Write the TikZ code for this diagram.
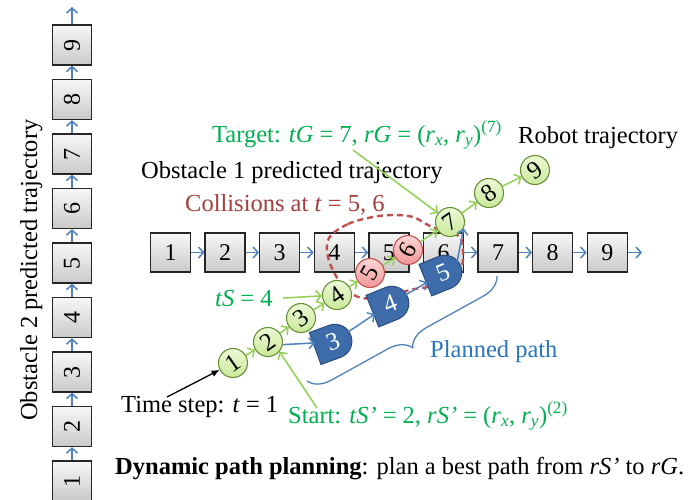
\documentclass[tikz,border=0pt]{standalone}
\usepackage{fontspec}
\setmainfont{Liberation Serif}
\usetikzlibrary{arrows.meta,decorations.pathreplacing,calc}
\definecolor{tgreen}{RGB}{0,176,80}
\definecolor{lgreen}{RGB}{146,208,80}
\definecolor{cborder}{RGB}{105,145,55}
\definecolor{cfillA}{RGB}{238,249,218}
\definecolor{cfillB}{RGB}{200,232,150}
\definecolor{rborder}{RGB}{192,80,77}
\definecolor{rfillA}{RGB}{253,220,220}
\definecolor{rfillB}{RGB}{240,150,150}
\definecolor{dblue}{RGB}{62,108,170}
\definecolor{dblueB}{RGB}{40,78,128}
\definecolor{lblue}{RGB}{79,129,189}
\definecolor{ptext}{RGB}{40,118,192}
\definecolor{colred}{RGB}{165,62,60}
\definecolor{dashred}{RGB}{192,80,77}
\newcommand{\szMain}{\fontsize{24.5}{29}\selectfont}
\newcommand{\szBox}{\fontsize{24}{28}\selectfont}
\newcommand{\szCirc}{\fontsize{25}{28}\selectfont}
\newcommand{\Dshape}[2]{\begin{scope}[shift={(#1)},rotate=#2]
  \path[dstyle] (-19,-17) -- (2,-17) arc[start angle=-90,end angle=90,radius=17] -- (-19,17) -- cycle;
  \end{scope}}
\begin{document}
\begin{tikzpicture}[x=1pt,y=-1pt,
  obox/.style={draw=black!85, line width=1.3pt, minimum width=40pt, minimum height=39pt,
    inner sep=0pt, top color=gray!6, bottom color=gray!42, font=\szBox},
  barrow/.style={draw=lblue, line width=1.5pt, -{Straight Barb[length=5pt,width=11pt]}},
  garrow/.style={draw=lgreen, line width=1.5pt, -{Straight Barb[length=5pt,width=11pt]}},
  karrow/.style={draw=black, line width=1.3pt, -{Latex[length=8pt,width=7pt]}},
  rc/.style={circle, draw=cborder, line width=1.1pt, top color=cfillA, bottom color=cfillB,
    minimum size=29pt, inner sep=0pt, font=\szCirc, rotate=35},
  rr/.style={rc, draw=rborder, top color=rfillA, bottom color=rfillB, rotate=25},
  dstyle/.style={fill=dblue, draw=dblueB, line width=1pt},
  dlab/.style={circle, minimum size=36pt, inner sep=0pt, text=white, font=\szCirc},
  txt/.style={anchor=base west, inner sep=0pt, font=\szMain},
  reddash/.style={draw=dashred, line width=2.4pt, dash pattern=on 6pt off 4pt},
  bracestyle/.style={draw=lblue, line width=1.3pt, decorate,
    decoration={brace, amplitude=22pt, mirror}}
]
\useasboundingbox (0,0) rectangle (688,499);
\clip (0,0) rectangle (688,499);
\fill[white] (0,0) rectangle (688,499);

% Obstacle 2 (vertical)
\foreach \k in {1,...,9}{
  \node[obox, rotate=90] (v\k) at (72,{481-(\k-1)*54.5}) {\k};
}
\foreach \k [evaluate=\k as \n using int(\k+1)] in {1,...,8}{
  \draw[barrow] (v\k) -- (v\n);
}
\coordinate (vtop) at (72,7);
\draw[barrow] (v9) -- (vtop);
\node[txt, rotate=90] (o2) at (37,421) {Obstacle 2 predicted trajectory};

% Obstacle 1 (horizontal)
\foreach \k in {1,...,9}{
  \node[obox] (b\k) at ({170.5+(\k-1)*54.6},252.5) {\k};
}
\foreach \k [evaluate=\k as \n using int(\k+1)] in {1,...,8}{
  \draw[barrow] (b\k) -- (b\n);
}
\coordinate (bend) at (642,252.5);
\draw[barrow] (b9) -- (bend);

% collision zone
\draw[reddash] plot[smooth cycle, tension=0.6] coordinates {
 (329,238) (348,224) (373,217) (393,215) (413,217) (430,226) (447,232) (460,237)
 (463,252) (461,268) (448,283) (428,287) (410,290) (386,297) (362,298) (347,290)
 (336,276) (328,257)};

% planned path shapes
\Dshape{333,342}{20}
\Dshape{390,304}{22}
\Dshape{443,273}{22}
\node[dlab, rotate=20] (p3) at (333,342) {3};
\node[dlab, rotate=22] (p4) at (390,304) {4};
\node[dlab, rotate=22] (p5) at (443,273) {5};

% robot trajectory
\node[rc] (c1) at (233,363) {1};
\node[rc] (c2) at (268,342) {2};
\node[rc] (c3) at (301,318) {3};
\node[rc] (c4) at (337,295) {4};
\node[rr] (c5) at (370,273) {5};
\node[rr] (c6) at (408,250) {6};
\node[rc] (c7) at (450,222) {7};
\node[rc] (c8) at (489,193) {8};
\node[rc] (c9) at (535,170) {9};
\foreach \a/\b in {c1/c2,c2/c3,c3/c4,c4/c5,c5/c6,c6/c7,c7/c8,c8/c9}{
  \draw[garrow] (\a) -- (\b);
}

% planned path arrows
\draw[barrow] (c2.south east) -- (p3);
\draw[barrow] (p3) -- (p4);
\draw[barrow] (p4) -- (p5);
\coordinate (p5top) at (457,262);
\draw[barrow] (p5top) -- (c7.-60);

% brace
\coordinate (brA) at (307,381);
\coordinate (brB) at (497,276);
\draw[bracestyle] (brA) -- (brB);

% labels
\node[txt, text=tgreen] (tgt) at (212,142) {Target: \textit{tG} = 7, \textit{rG} = (\textit{r}\textsubscript{\textit{x}}, \textit{r}\textsubscript{\textit{y}})\textsuperscript{(7)}};
\node[txt] (rob) at (518,143) {Robot trajectory};
\node[txt] (o1) at (141,178) {Obstacle 1 predicted trajectory};
\node[txt, text=colred] (col) at (185,211) {Collisions at \textit{t} = 5, 6};
\node[txt, text=tgreen] (ts) at (215,306) {\textit{tS} = 4};
\node[txt, text=ptext] (pp) at (430,357) {Planned path};
\node[txt] (tstep) at (121,412) {Time step: \textit{t} = 1};
\node[txt, text=tgreen] (st) at (288,423) {Start: \textit{tS’} = 2, \textit{rS’} = (\textit{r}\textsubscript{\textit{x}}, \textit{r}\textsubscript{\textit{y}})\textsuperscript{(2)}};
\node[txt] (dyn) at (115,474) {\textbf{Dynamic path planning}: plan a best path from \textit{rS’} to \textit{rG}.};

% label arrows
\coordinate (tgA) at (353,150);
\draw[garrow] (tgA) -- (c7);
\coordinate (tsA) at (283,298);
\draw[garrow] (tsA) -- (c4);
\coordinate (stA) at (317,408);
\draw[garrow] (stA) -- (c2.-75);
\coordinate (tmA) at (167,397);
\draw[karrow] (tmA) -- (c1);
\end{tikzpicture}
\end{document}
